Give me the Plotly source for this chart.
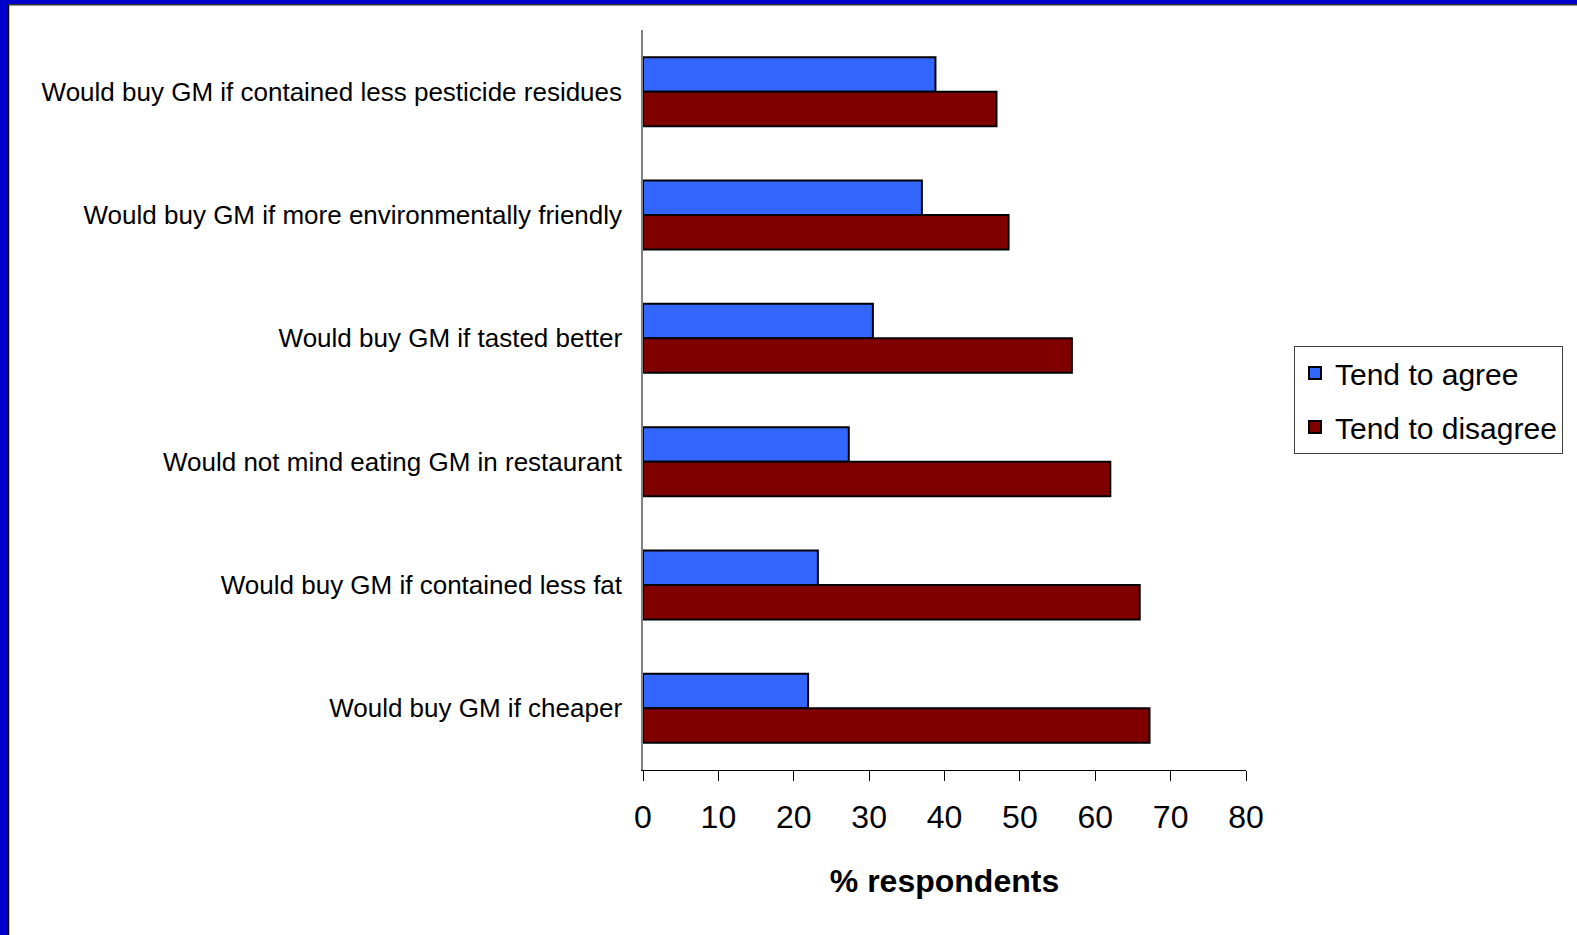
import plotly.graph_objects as go

# Survey statements, listed top to bottom
statements = [
    "Would buy GM if contained less pesticide residues",
    "Would buy GM if more environmentally friendly",
    "Would buy GM if tasted better",
    "Would not mind eating GM in restaurant",
    "Would buy GM if contained less fat",
    "Would buy GM if cheaper",
]
agree = [38.8, 37.0, 30.5, 27.3, 23.2, 21.9]
disagree = [46.9, 48.5, 56.9, 62.0, 65.9, 67.2]
x_ticks = [0, 10, 20, 30, 40, 50, 60, 70, 80]

W, H = 1577, 935
L, R, T, B = 643, 1246, 30, 770  # plot area in pixels

def px(x):
    return (x - L) / (R - L)

def py(y):
    return (B - y) / (B - T)

FONT = "Arial, Liberation Sans, sans-serif"

fig = go.Figure()
fig.add_trace(go.Bar(
    y=statements, x=agree, orientation="h", name="Tend to agree",
    legendgroup="agree",
    marker=dict(color="#3366FF", line=dict(color="black", width=2)),
))
fig.add_trace(go.Bar(
    y=statements, x=disagree, orientation="h", name="Tend to disagree",
    legendgroup="disagree",
    marker=dict(color="#800000", line=dict(color="black", width=2)),
))

fig.update_layout(
    width=W, height=H,
    margin=dict(l=L, r=W - R, t=T, b=H - B, autoexpand=False),
    paper_bgcolor="white", plot_bgcolor="white",
    barmode="group", bargap=0.44, bargroupgap=0,
    font=dict(family=FONT, color="black"),
    showlegend=True,
    legend=dict(
        x=px(1294), y=py(346), xanchor="left", yanchor="top",
        bordercolor="#404040", borderwidth=1, bgcolor="white",
        font=dict(size=30, family=FONT), traceorder="grouped",
        itemsizing="constant", tracegroupgap=12,
    ),
    xaxis=dict(
        range=[0, 80], tickvals=x_ticks, ticktext=[str(v) for v in x_ticks],
        showgrid=False, zeroline=False,
        showline=True, linecolor="black", linewidth=1,
        ticks="outside", ticklen=10, tickcolor="black", tickwidth=1,
        ticklabelstandoff=9,
        tickfont=dict(size=32, family=FONT),
        title=dict(text="<b>% respondents</b>", font=dict(size=32, family=FONT), standoff=35),
        fixedrange=True,
    ),
    yaxis=dict(
        autorange="reversed", categoryorder="array", categoryarray=statements,
        showgrid=False, zeroline=False,
        showline=True, linecolor="#808080", linewidth=1.5,
        ticks="", ticklabelstandoff=14,
        tickfont=dict(size=26, family=FONT),
        fixedrange=True,
    ),
)

# Frame: blue band on the left and top edges with a dark inner edge
shapes = [
    dict(type="rect", xref="paper", yref="paper", x0=px(0), x1=px(8), y0=py(H), y1=py(0),
         fillcolor="#0000CC", line=dict(width=0), layer="above"),
    dict(type="rect", xref="paper", yref="paper", x0=px(0), x1=px(W), y0=py(4), y1=py(0),
         fillcolor="#0000CC", line=dict(width=0), layer="above"),
    dict(type="line", xref="paper", yref="paper", x0=px(8.5), x1=px(8.5), y0=py(H), y1=py(4),
         line=dict(color="black", width=1.5), layer="above"),
    dict(type="line", xref="paper", yref="paper", x0=px(8), x1=px(W), y0=py(4.8), y1=py(4.8),
         line=dict(color="#303030", width=1.5), layer="above"),
]
fig.update_layout(shapes=shapes)

fig.write_html("out.html")
